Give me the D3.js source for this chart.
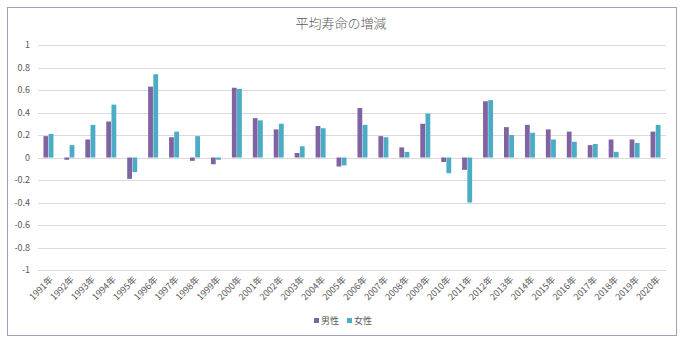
<!DOCTYPE html>
<html>
<head>
<meta charset="utf-8">
<script src="https://cdn.jsdelivr.net/npm/d3@7"></script>
<style>
  body { margin: 0; background: #fff; }
  svg { display: block; }
</style>
</head>
<body>
<div id="chart"></div>
<script>
const years = d3.range(1991, 2021).map((y) => y + "年");
const male = [0.19, -0.02, 0.16, 0.32, -0.19, 0.63, 0.18, -0.03, -0.06, 0.62,
    0.35, 0.25, 0.04, 0.28, -0.08, 0.44, 0.19, 0.09, 0.30, -0.04,
    -0.11, 0.50, 0.27, 0.29, 0.25, 0.23, 0.11, 0.16, 0.16, 0.23];
const female = [0.21, 0.11, 0.29, 0.47, -0.13, 0.74, 0.23, 0.19, -0.02, 0.61,
    0.33, 0.30, 0.10, 0.26, -0.07, 0.29, 0.18, 0.05, 0.39, -0.14,
    -0.40, 0.51, 0.20, 0.22, 0.16, 0.14, 0.12, 0.05, 0.13, 0.29];
const seriesNames = ["男性", "女性"];
const yTicks = [-1, -0.8, -0.6, -0.4, -0.2, 0, 0.2, 0.4, 0.6, 0.8, 1];

const colors = ["#8064a2", "#4bacc6"];
const font = "'Noto Sans CJK JP', 'Noto Sans', sans-serif";

const width = 683, height = 354;
const margin = { top: 45, right: 16, bottom: 84, left: 38 };

const svg = d3.select("#chart").append("svg")
    .attr("width", width)
    .attr("height", height)
    .style("font-family", font);

// outer frame
svg.append("rect")
    .attr("x", 7.5).attr("y", 7.5)
    .attr("width", 669).attr("height", 328)
    .attr("fill", "#fff")
    .attr("stroke", "#a49bbd")
    .attr("stroke-width", 1);

svg.append("text")
    .attr("x", 341).attr("y", 28)
    .attr("text-anchor", "middle")
    .attr("font-size", 13)
    .attr("font-weight", 300)
    .attr("fill", "#595959")
    .text("平均寿命の増減");

const x = d3.scaleBand()
    .domain(years)
    .range([margin.left, width - margin.right - 1]);

const x1 = d3.scaleBand()
    .domain(seriesNames)
    .range([0, x.bandwidth()])
    .paddingInner(0.08)
    .paddingOuter(1.05);

const y = d3.scaleLinear()
    .domain([-1, 1])
    .range([height - margin.bottom, margin.top]);

// gridlines
svg.append("g")
    .selectAll("line")
    .data(yTicks)
    .join("line")
    .attr("x1", margin.left)
    .attr("x2", width - margin.right - 1)
    .attr("y1", (d) => Math.round(y(d)) + 0.5)
    .attr("y2", (d) => Math.round(y(d)) + 0.5)
    .attr("stroke", "#d9d9d9")
    .attr("stroke-width", 1);

// y labels (plain hyphen minus, like the original)
svg.append("g")
    .selectAll("text")
    .data(yTicks)
    .join("text")
    .attr("x", 30)
    .attr("y", (d) => y(d))
    .attr("dy", "0.35em")
    .attr("text-anchor", "end")
    .attr("font-size", 9)
    .attr("fill", "#595959")
    .text((d) => String(+d.toFixed(1)));

// bars
const data = years.map((yr, i) => ({ year: yr, values: [male[i], female[i]] }));
const groups = svg.append("g")
    .selectAll("g")
    .data(data)
    .join("g")
    .attr("transform", (d) => `translate(${x(d.year)},0)`);

groups.selectAll("rect")
    .data((d) => d.values.map((v, k) => ({ v, k })))
    .join("rect")
    .attr("x", (d) => x1(seriesNames[d.k]))
    .attr("width", x1.bandwidth())
    .attr("y", (d) => y(Math.max(0, d.v)))
    .attr("height", (d) => Math.abs(y(d.v) - y(0)))
    .attr("fill", (d) => colors[d.k]);

// x labels rotated
svg.append("g")
    .selectAll("text")
    .data(years)
    .join("text")
    .attr("transform", (d) => `translate(${x(d) + x.bandwidth() / 2 + 3},${y(-1) + 8}) rotate(-45)`)
    .attr("text-anchor", "end")
    .attr("dy", "0.35em")
    .attr("font-size", 9)
    .attr("fill", "#595959")
    .text((d) => d);

// legend
const legend = svg.append("g").attr("transform", "translate(314,321)");
seriesNames.forEach((name, i) => {
    const g = legend.append("g").attr("transform", `translate(${i * 33},0)`);
    g.append("rect")
        .attr("x", 0).attr("y", -3)
        .attr("width", 5).attr("height", 5)
        .attr("fill", colors[i]);
    g.append("text")
        .attr("x", 7).attr("y", 0)
        .attr("dy", "0.35em")
        .attr("font-size", 9)
        .attr("fill", "#595959")
        .text(name);
});
</script>
</body>
</html>
